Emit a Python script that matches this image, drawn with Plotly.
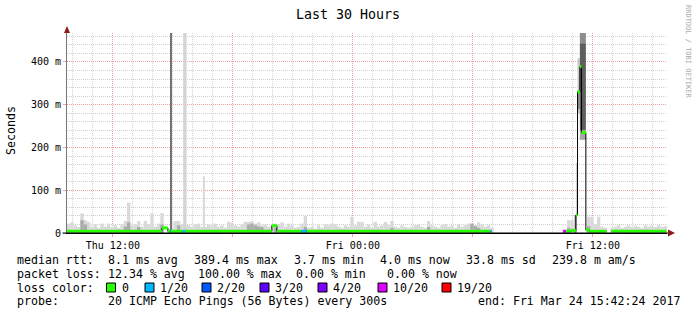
import plotly.graph_objects as go
import pandas as pd

# ---------------- data ----------------
START = pd.Timestamp("2017-03-23 09:42:24")
END = pd.Timestamp("2017-03-24 15:42:24")
SLOT_MIN = 10  # smoke columns, one per 10 minutes

# top of the light smoke (ms) per 10-minute slot, None = no data
smoke_max = [
    22, 25, 18, 14, 46, 30, 26, 15, 20, 12,
    22, 15, 22, 14, 18, 12, 20, 28, 71, 17,
    20, 28, 15, 28, 20, 46, 15, 22, 47, 0,
    10, 15, 28, 28, 20, 18, 18, 15, 20, 22,
    14, 14, 20, 18, 22, 15, 18, 12, 26, 24,
    18, 15, 20, 26, 26, 28, 22, 25, 18, 20,
    15, 18, 22, 20, 25, 15, 22, 18, 12, 15,
    22, 40, 12, 15, 10, 18, 12, 20, 18, 22,
    20, 15, 12, 18, 15, 38, 18, 26, 26, 15,
    20, 12, 26, 15, 18, 26, 18, 28, 15, 12,
    18, 14, 12, 15, 18, 20, 15, 12, 28, 18,
    15, 12, 18, 20, 15, 18, 12, 20, 15, 18,
    22, 22, 18, 25, 20, 15, 18, 12, None, None,
    None, None, None, None, None, None, None, None, None, None,
    None, None, None, None, None, None, None, None, None, 8,
    30, 30, 10, 0, 0, 0, 38, 38, 20, 38,
    15, 12, None, 12, 15, 18, 12, 15, 18, 14,
    17, 15, 12, 18, 15, 17, 14, 18, 15, 16,
]
# darker smoke patches: slot index and top (ms)
core_idx = [4, 5, 17, 18, 21, 28, 33, 54, 55, 56, 57, 58, 62, 71, 97, 108, 121, 122, 123, 150, 156]
core_top = [30, 20, 15, 25, 14, 20, 18, 20, 22, 18, 15, 14, 12, 14, 12, 14, 22, 16, 12, 12, 16]

# individual smoke columns (start, end, bottom ms, top ms, shade)
extra_t0 = ["2017-03-23 14:53", "2017-03-23 15:31", "2017-03-23 16:30", "2017-03-24 11:05",
            "2017-03-24 11:11", "2017-03-24 11:14", "2017-03-24 11:14", "2017-03-24 11:21",
            "2017-03-24 11:21", "2017-03-24 11:21"]
extra_t1 = ["2017-03-23 14:56", "2017-03-23 15:41", "2017-03-23 16:36", "2017-03-24 11:11",
            "2017-03-24 11:14", "2017-03-24 11:21", "2017-03-24 11:21", "2017-03-24 11:39",
            "2017-03-24 11:39", "2017-03-24 11:39"]
extra_base = [0, 0, 0, 0, 42, 280, 290, 218, 241, 444]
extra_top = [480, 480, 133, 42, 164, 409, 330, 241, 444, 480]
extra_color = ["#747474", "#D4D4D4", "#D9D9D9", "#8C8C8C", "#D0D0D0", "#C8C8C8",
               "#8A8A8A", "#A6A6A6", "#5E5E5E", "#8C8C8C"]

# median rtt segments (start, end, median ms, lost pings of 20)
seg_t0 = ["2017-03-23 09:42:24", "2017-03-23 14:27", "2017-03-23 14:45", "2017-03-23 14:51",
          "2017-03-23 14:54", "2017-03-23 15:29", "2017-03-23 15:37", "2017-03-23 19:57",
          "2017-03-23 20:12", "2017-03-23 21:26", "2017-03-23 21:41", "2017-03-24 06:53",
          "2017-03-24 10:30", "2017-03-24 10:39", "2017-03-24 10:54", "2017-03-24 11:09",
          "2017-03-24 11:14", "2017-03-24 11:21", "2017-03-24 11:26", "2017-03-24 11:39",
          "2017-03-24 11:51", "2017-03-24 12:56"]
seg_t1 = ["2017-03-23 14:27", "2017-03-23 14:45", "2017-03-23 14:51", "2017-03-23 14:54",
          "2017-03-23 15:29", "2017-03-23 15:37", "2017-03-23 19:57", "2017-03-23 20:12",
          "2017-03-23 21:26", "2017-03-23 21:41", "2017-03-24 06:53", "2017-03-24 06:56",
          "2017-03-24 10:39", "2017-03-24 10:54", "2017-03-24 11:09", "2017-03-24 11:14",
          "2017-03-24 11:21", "2017-03-24 11:26", "2017-03-24 11:39", "2017-03-24 11:51",
          "2017-03-24 12:41", "2017-03-24 15:40"]
seg_med = [4, 12, 4, 4, 4, 4, 4, 17, 4, 4, 4, 4, 4, 4, 6, 42, 330, 389, 235, 7, 4, 4]
seg_loss = [0, 0, 0, 1, 0, 1, 0, 0, 0, 1, 0, 1, 10, 0, 0, 0, 0, 0, 0, 0, 0, 0]

loss_labels = ["0", "1/20", "2/20", "3/20", "4/20", "10/20", "19/20"]
loss_limits = [0, 1, 2, 3, 4, 10, 19]
loss_colors = ["#26FF00", "#00B8FF", "#0059FF", "#5E00FF", "#7E00FF", "#DD00FF", "#FF0000"]

y_tickvals = [0, 100, 200, 300, 400]
y_ticktext = ["0", "100 m", "200 m", "300 m", "400 m"]
x_tickvals = ["2017-03-23 12:00", "2017-03-23 18:00", "2017-03-24 00:00",
              "2017-03-24 06:00", "2017-03-24 12:00"]
x_ticktext = ["Thu 12:00", "", "Fri 00:00", "", "Fri 12:00"]

row_rtt = [("median rtt:", 17), ("8.1 ms avg", 107.5), ("389.4 ms max", 193.5),
           ("3.7 ms min", 293.5), ("4.0 ms now", 379.5), ("33.8 ms sd", 466),
           ("239.8 m am/s", 552)]
row_loss = [("packet loss:", 17), ("12.34 % avg", 107.5), ("100.00 % max", 197.5),
            ("0.00 % min", 296), ("0.00 % now", 386.5)]
row_probe = [("probe:", 17), ("20 ICMP Echo Pings (56 Bytes) every 300s", 107.5),
             ("end: Fri Mar 24 15:42:24 2017", 478)]
box_left = [106.5, 145, 202, 260, 318, 378, 442]

# ---------------- figure ----------------
W_PX, H_PX = 697, 315
L, T, PW, PH = 67, 33, 600, 200
MONO = "DejaVu Sans Mono"


def fx(p):
    return (p - L) / PW


def fy(p):
    return (T + PH - p) / PH


fig = go.Figure()

slot_x = [START + pd.Timedelta(minutes=(i + 0.5) * SLOT_MIN) for i in range(len(smoke_max))]
fig.add_bar(x=slot_x, y=smoke_max, base=0, width=SLOT_MIN * 60000,
            marker=dict(color="#D9D9D9", line_width=0), hoverinfo="skip")
fig.add_bar(x=[slot_x[i] for i in core_idx], y=core_top, base=0, width=SLOT_MIN * 60000,
            marker=dict(color="#ABABAB", line_width=0), hoverinfo="skip")

e0 = [pd.Timestamp(t) for t in extra_t0]
e1 = [pd.Timestamp(t) for t in extra_t1]
fig.add_bar(x=[a + (b - a) / 2 for a, b in zip(e0, e1)],
            y=[t - b for t, b in zip(extra_top, extra_base)],
            base=extra_base,
            width=[(b - a).total_seconds() * 1000 for a, b in zip(e0, e1)],
            marker=dict(color=extra_color, line_width=0), hoverinfo="skip")

# black median line (steps)
mx, my = [], []
prev_end = None
for a, b, v in zip(seg_t0, seg_t1, seg_med):
    ta, tb = pd.Timestamp(a), pd.Timestamp(b)
    if prev_end is not None and ta != prev_end:
        mx.append(None)
        my.append(None)
    mx += [ta, tb]
    my += [v, v]
    prev_end = tb
fig.add_scatter(x=mx, y=my, mode="lines", line=dict(color="#000000", width=1),
                hoverinfo="skip", connectgaps=False)


def loss_class(n):
    k = 0
    for j, lim in enumerate(loss_limits):
        if n >= lim:
            k = j
    return k


for k, col in enumerate(loss_colors):
    cx, cy = [], []
    for a, b, v, n in zip(seg_t0, seg_t1, seg_med, seg_loss):
        if loss_class(n) == k:
            cx += [pd.Timestamp(a), pd.Timestamp(b), None]
            cy += [v, v, None]
    if cx:
        fig.add_scatter(x=cx, y=cy, mode="lines", line=dict(color=col, width=3),
                        hoverinfo="skip", connectgaps=False)

minor_grid = "#D0D0D0"
major_grid = "#EFA0A0"

fig.update_layout(
    width=W_PX, height=H_PX, autosize=False, template="none",
    margin=dict(l=L, r=W_PX - L - PW, t=T, b=H_PX - T - PH, pad=0),
    paper_bgcolor="white", plot_bgcolor="white",
    showlegend=False, barmode="overlay",
    font=dict(family=MONO, size=10, color="black"),
    xaxis=dict(
        type="date", range=[START, END], automargin=False,
        tickvals=x_tickvals, ticktext=x_ticktext,
        ticks="outside", ticklen=3, tickcolor=major_grid, tickwidth=1,
        tickfont=dict(family=MONO, size=10, color="black"),
        showgrid=True, gridcolor=major_grid, griddash="1px,1px", gridwidth=1,
        minor=dict(dtick=3600000, tick0="2017-03-23 10:00", showgrid=True,
                   gridcolor=minor_grid, griddash="1px,1px", gridwidth=1),
        showline=True, linecolor="#000000", linewidth=1, zeroline=False,
    ),
    yaxis=dict(
        range=[0, 467.8], automargin=False,
        tickvals=y_tickvals, ticktext=y_ticktext,
        ticks="outside", ticklen=3, tickcolor=major_grid, tickwidth=1,
        tickfont=dict(family=MONO, size=10, color="black"),
        showgrid=True, gridcolor=major_grid, griddash="1px,1px", gridwidth=1,
        minor=dict(dtick=20, showgrid=True, gridcolor=minor_grid,
                   griddash="1px,1px", gridwidth=1),
        showline=True, linecolor="#777777", linewidth=1, zeroline=False,
    ),
)

ann = []


def text(s, x, y, size=11.6, color="black", xanchor="left", angle=0):
    ann.append(dict(text=s, x=fx(x), y=fy(y), xref="paper", yref="paper",
                    xanchor=xanchor, yanchor="middle", showarrow=False,
                    textangle=angle, borderpad=0, borderwidth=0,
                    font=dict(family=MONO, size=size, color=color)))


text("Last 30 Hours", 348, 14, size=13.3, xanchor="center")
text("Seconds", 11, 131, xanchor="center", angle=-90)
text("RRDTOOL / TOBI OETIKER", 688, 52, size=7, color="#AAAAAA", xanchor="center", angle=90)

for s, x in row_rtt:
    text(s, x, 260)
for s, x in row_loss:
    text(s, x, 273.5)
text("loss color:", 17, 287.5)
for s, x in row_probe:
    text(s, x, 301)

shapes = []
for lab, col, bx in zip(loss_labels, loss_colors, box_left):
    shapes.append(dict(type="rect", xref="paper", yref="paper",
                       x0=fx(bx), x1=fx(bx + 9), y0=fy(292), y1=fy(283),
                       fillcolor=col, line=dict(color="black", width=1)))
    text(lab, bx + 15, 287.5)

# axis arrows and axis extension
shapes.append(dict(type="path", xref="paper", yref="paper",
                   path=f"M {fx(67)} {fy(26)} L {fx(64)} {fy(33)} L {fx(70)} {fy(33)} Z",
                   fillcolor="#8B1A1A", line=dict(width=0)))
shapes.append(dict(type="path", xref="paper", yref="paper",
                   path=f"M {fx(675)} {fy(233)} L {fx(668)} {fy(229.5)} L {fx(668)} {fy(236.5)} Z",
                   fillcolor="#8B1A1A", line=dict(width=0)))
shapes.append(dict(type="line", xref="paper", yref="paper",
                   x0=fx(62.5), x1=fx(668), y0=0, y1=0, line=dict(color="black", width=1)))

fig.update_layout(annotations=ann, shapes=shapes)
fig.write_html("out.html")
